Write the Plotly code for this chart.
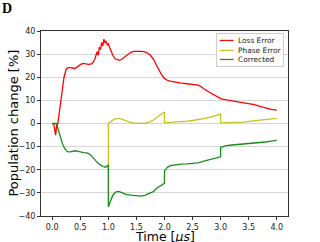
import plotly.graph_objects as go

# Loss Error (red)
loss_t = [0, 0.03, 0.06, 0.08, 0.1, 0.12, 0.15, 0.18, 0.21, 0.25, 0.28, 0.32, 0.36, 0.4, 0.45, 0.5,
          0.55, 0.6, 0.65, 0.7, 0.73, 0.76, 0.78, 0.8, 0.82, 0.84, 0.86, 0.88, 0.9, 0.92, 0.94, 0.96,
          0.98, 1.0, 1.02, 1.05, 1.08, 1.12, 1.16, 1.2, 1.25, 1.3, 1.35, 1.4, 1.45, 1.5, 1.55, 1.6,
          1.65, 1.7, 1.75, 1.8, 1.85, 1.9, 1.95, 2.0, 2.05, 2.1, 2.2, 2.3, 2.4, 2.5, 2.6, 2.65, 2.7,
          2.8, 2.9, 3.0, 3.1, 3.2, 3.3, 3.4, 3.5, 3.6, 3.7, 3.8, 3.9, 4.0]
loss_v = [0, -0.5, -5, -1, 0, 4, 10, 15, 20, 23.5, 24.2, 24.2, 24.0, 23.8, 24.5, 25.5,
          26, 25.8, 25.6, 25.8, 26.5, 28, 30, 31, 29.5, 33, 32, 35, 33.5, 36.5, 35, 35.5,
          34, 34.5, 33, 31, 29.5, 28, 27.5, 27.3, 28, 29, 30, 30.8, 31.2, 31.3, 31.3, 31.2,
          31, 30.5, 29.5, 28, 25.5, 23, 21, 19.5, 18.7, 18.3, 17.8, 17.5, 17.2, 17, 16.6, 16, 15,
          13.5, 12, 10.8, 10.2, 9.8, 9.5, 9.2, 8.8, 8.2, 7.4, 6.6, 6.1, 5.8]

# Phase Error (yellow)
phase_t = [1.0, 1.001, 1.05, 1.1, 1.18, 1.25, 1.33, 1.4, 1.5, 1.57, 1.65, 1.72, 1.8, 1.87, 1.94,
           1.999, 2.0, 2.1, 2.2, 2.3, 2.4, 2.5, 2.6, 2.7, 2.8, 2.9, 2.999, 3.0, 3.1, 3.2, 3.3, 3.4,
           3.5, 3.6, 3.7, 3.8, 3.9, 4.0]
phase_v = [-18, 0, 1, 1.8, 2.2, 1.8, 1.0, 0.4, 0.05, 0, 0.1, 0.5, 1.5, 2.8, 4,
           5, 0.3, 0.4, 0.6, 0.8, 1, 1.3, 1.6, 2.1, 2.7, 3.4, 4.1, 0.3, 0.3, 0.4, 0.5, 0.6,
           0.9, 1.2, 1.5, 1.8, 2.1, 2.2]

# Corrected (green)
corr_t = [0, 0.05, 0.08, 0.1, 0.14, 0.18, 0.22, 0.27, 0.32, 0.37, 0.41, 0.46, 0.51, 0.56, 0.61,
          0.65, 0.7, 0.75, 0.8, 0.85, 0.9, 0.95, 0.98, 0.999, 1.0, 1.04, 1.08, 1.13, 1.18, 1.23,
          1.3, 1.4, 1.5, 1.57, 1.65, 1.75, 1.8, 1.86, 1.92, 1.999, 2.0, 2.05, 2.1, 2.2, 2.3, 2.4,
          2.5, 2.6, 2.7, 2.78, 2.9, 2.999, 3.0, 3.1, 3.2, 3.3, 3.4, 3.5, 3.6, 3.7, 3.8, 3.9, 4.0]
corr_v = [0, 0.2, 0, -2, -5.5, -8.6, -10.8, -12.2, -12.3, -12, -11.8, -12.1, -12.5, -12.6, -12.7,
          -13, -14, -15.5, -16.8, -17.8, -18.6, -18.9, -18.5, -18, -36, -33.5, -31, -29.7, -29.4, -29.8,
          -30.5, -31, -31.3, -31.4, -31.1, -30.2, -29.5, -28, -27, -25.9, -20.5, -19, -18.2, -17.8, -17.6, -17.5,
          -17.3, -17, -16.3, -15.8, -15, -14.4, -10.3, -9.6, -9.3, -9.1, -8.9, -8.8, -8.6, -8.4, -8, -7.6, -7.3]

x_ticks = [0.0, 0.5, 1.0, 1.5, 2.0, 2.5, 3.0, 3.5, 4.0]
y_ticks = [-40, -30, -20, -10, 0, 10, 20, 30, 40]

series_names = ["Loss Error", "Phase Error", "Corrected"]
series_colors = ["#ff0000", "#c4c41c", "#1a8a1a"]

fig = go.Figure()
for t, v, name, color in zip([loss_t, phase_t, corr_t], [loss_v, phase_v, corr_v],
                             series_names, series_colors):
    fig.add_trace(go.Scatter(x=t, y=v, mode="lines", name=name,
                             line=dict(color=color, width=1.3), showlegend=False))

# compact legend (matplotlib style) as a text box
legend_text = "<br>".join(
    f"<span style='color:{c}'>━━━</span>  {n}" for n, c in zip(series_names, series_colors)
)
fig.add_annotation(
    text=legend_text, xref="paper", yref="paper", x=0.985, y=0.988,
    xanchor="right", yanchor="top", align="left", showarrow=False,
    font=dict(family="DejaVu Sans", size=7.4, color="#222222"),
    bgcolor="rgba(255,255,255,0.9)", bordercolor="#cccccc", borderwidth=1, borderpad=2,
)

# axis titles
fig.add_annotation(
    text="Population change [%]", xref="paper", yref="paper", x=-0.113, y=0.5,
    xanchor="center", yanchor="middle", textangle=-90, showarrow=False,
    font=dict(family="DejaVu Sans", size=13, color="black"),
)
fig.add_annotation(
    text="Time [<i>μs</i>]", xref="paper", yref="paper", x=0.5, y=-0.113,
    xanchor="center", yanchor="middle", showarrow=False,
    font=dict(family="DejaVu Sans", size=12.5, color="black"),
)

axis_common = dict(showline=True, linecolor="#333333", linewidth=1, mirror=True,
                   ticks="outside", ticklen=3, tickwidth=1, tickcolor="#333333",
                   tickfont=dict(family="DejaVu Sans", size=8, color="#222222"),
                   zeroline=False, automargin=False)

fig.update_layout(
    width=320, height=242,
    margin=dict(l=41, r=32, t=31, b=26),
    paper_bgcolor="white", plot_bgcolor="white",
    title=dict(text="<b>D</b>", x=0.006, xref="container", xanchor="left",
               y=0.985, yref="container", yanchor="top",
               font=dict(family="Liberation Serif", size=14, color="black")),
    xaxis=dict(range=[-0.2, 4.2], tickvals=x_ticks, ticktext=[f"{v:.1f}" for v in x_ticks],
               showgrid=False, **axis_common),
    yaxis=dict(range=[-40, 40], tickvals=y_ticks, ticktext=[str(v).replace("-", "−") for v in y_ticks],
               showgrid=True, gridcolor="#d6d6d6", gridwidth=1,
               **axis_common),
    showlegend=False,
)

fig.write_html(
    "out.html",
    config={"displayModeBar": False},
    post_script="document.body.style.margin='0';document.body.style.padding='0';"
                "document.body.style.overflow='hidden';",
)
